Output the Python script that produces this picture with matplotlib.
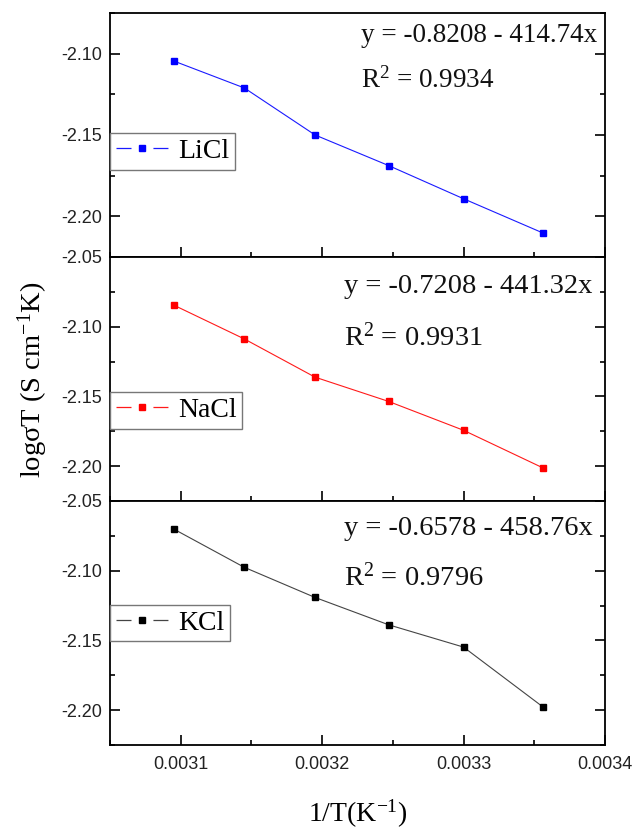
import matplotlib
matplotlib.use("Agg")
import matplotlib.pyplot as plt
from matplotlib.lines import Line2D
from matplotlib.ticker import MultipleLocator, FormatStrFormatter

plt.rcParams['font.family'] = ['Liberation Serif', 'DejaVu Serif']
plt.rcParams['mathtext.fontset'] = 'custom'
plt.rcParams['mathtext.rm'] = 'Liberation Serif'
plt.rcParams['mathtext.it'] = 'Liberation Serif:italic'
plt.rcParams['lines.scale_dashes'] = False

# data
inv_T = [0.003095, 0.003145, 0.003195, 0.003247, 0.003300, 0.003356]
licl = [-2.1045, -2.1211, -2.1500, -2.1688, -2.1892, -2.2102]
nacl = [-2.0845, -2.1088, -2.1362, -2.1536, -2.1743, -2.2012]
kcl = [-2.0701, -2.0976, -2.1192, -2.1388, -2.1548, -2.1976]

names = ["LiCl", "NaCl", "KCl"]
series = [licl, nacl, kcl]
fits = ["y = -0.8208 - 414.74x", "y = -0.7208 - 441.32x", "y = -0.6578 - 458.76x"]
r2 = ["0.9934", "0.9931", "0.9796"]
line_colors = ["#1a1aff", "#ff1a1a", "#444444"]
marker_colors = ["#0000ff", "#ff0000", "#000000"]
ylims = [(-2.225, -2.075), (-2.225, -2.05), (-2.225, -2.05)]
yticks = [[-2.20, -2.15, -2.10], [-2.20, -2.15, -2.10, -2.05], [-2.20, -2.15, -2.10, -2.05]]

# layout
text_x = [0.507, 0.472, 0.472]
eq_y = [0.882, 0.851, 0.860]
r2_y = [0.693, 0.638, 0.652]
text_size = [19.5, 20.5, 20.5]
leg_y = [0.508, 0.446, 0.574]

fig, axes = plt.subplots(3, 1, figsize=(6.33, 8.32), dpi=100, sharex=True)
fig.subplots_adjust(left=0.1738, right=0.9557, top=0.9844, bottom=0.1046, hspace=0)

for i, ax in enumerate(axes):
    ax.plot(inv_T, series[i], color=line_colors[i], lw=0.8, marker='s', ms=4.5,
            mfc=marker_colors[i], mec=marker_colors[i])
    ax.set_xlim(0.00305, 0.0034)
    ax.set_ylim(*ylims[i])
    ax.set_yticks(yticks[i])
    ax.yaxis.set_major_formatter(FormatStrFormatter('%.2f'))
    ax.yaxis.set_minor_locator(MultipleLocator(0.025))
    ax.xaxis.set_major_locator(MultipleLocator(0.0001))
    ax.xaxis.set_minor_locator(MultipleLocator(0.00005))
    ax.xaxis.set_major_formatter(FormatStrFormatter('%.4f'))
    ax.tick_params(which='both', direction='in', left=True, right=True, top=False, bottom=True, width=1.2)
    ax.tick_params(which='major', length=7)
    ax.tick_params(which='minor', length=3.5)
    ax.tick_params(axis='y', pad=6)
    ax.tick_params(axis='x', pad=8)
    for lab in ax.get_yticklabels() + ax.get_xticklabels():
        lab.set_fontfamily('Liberation Sans')
        lab.set_fontsize(13)
        lab.set_color('#222222')
    for sp in ax.spines.values():
        sp.set_linewidth(1.3)

    ax.text(text_x[i], eq_y[i], fits[i], transform=ax.transAxes, fontsize=text_size[i],
            ha='left', va='baseline', color='#111111')
    ax.text(text_x[i], r2_y[i], "R$^{2}$ = " + r2[i], transform=ax.transAxes, fontsize=text_size[i],
            ha='left', va='baseline', color='#111111')

    handle = Line2D([], [], color=line_colors[i], lw=0.9, ls=(0, (10.8, 15.8)), marker='s', ms=4.5,
                    mfc=marker_colors[i], mec=marker_colors[i])
    leg = ax.legend([handle], [names[i]], loc='upper left', bbox_to_anchor=(0.0, leg_y[i]),
                    borderaxespad=0, fancybox=False, framealpha=1, edgecolor='#777777',
                    fontsize=20, handlelength=1.9, handletextpad=0.35, borderpad=0.2, numpoints=1)
    leg.get_frame().set_linewidth(1.0)

axes[2].set_xlabel("1/T(K$^{-1}$)", fontsize=20, labelpad=18)
fig.text(33 / 633, 0.543, "logσT (S cm$^{-1}$K)", rotation=90, fontsize=20.5, ha='center', va='center')

plt.savefig("out.png", dpi=100)
